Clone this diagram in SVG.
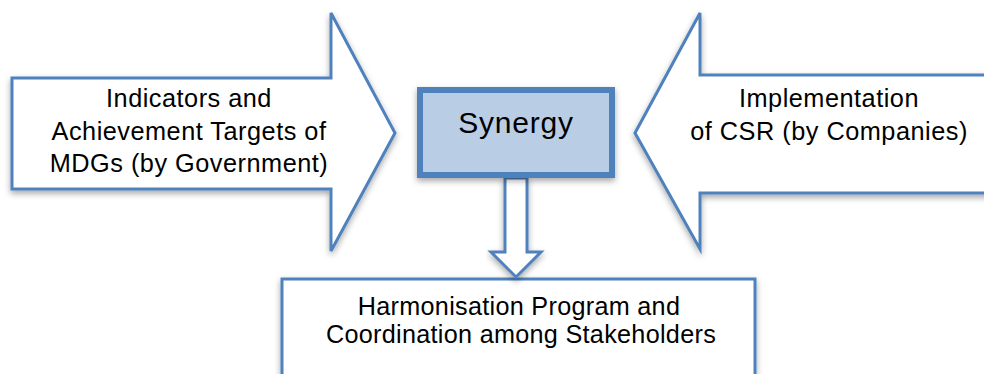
<svg xmlns="http://www.w3.org/2000/svg" width="984" height="374" viewBox="0 0 984 374">
<style>
.shape{fill:#ffffff;stroke:#4f81bd;stroke-width:3;stroke-linejoin:miter;filter:url(#sh)}
.t{font-family:"Liberation Sans",Arial,Helvetica,sans-serif;font-size:25.3px;fill:#000000;text-anchor:middle;letter-spacing:0.5px}
.b{font-size:25.2px;letter-spacing:0.3px}
.syn{fill:#b9cde5;stroke:#4f81bd;stroke-width:6;filter:url(#sh)}
.big{font-size:30px;letter-spacing:0.8px}
</style>
<defs>
<filter id="sh" x="-10%" y="-10%" width="130%" height="140%">
<feDropShadow dx="0" dy="3" stdDeviation="3" flood-color="#000000" flood-opacity="0.35"/>
</filter>
</defs>
<rect width="984" height="374" fill="#ffffff"/>
<g id="left-arrow">
<polygon class="shape" points="12,78 331,78 331,13 395,133 331,251 331,189 12,189"/>
<text class="t" x="189" y="107">Indicators and</text>
<text class="t" x="189" y="140">Achievement Targets of</text>
<text class="t" x="189" y="172">MDGs (by Government)</text>
</g>
<g id="right-arrow">
<polygon class="shape" points="992,75 700,75 700,13 635,133 700,249 700,193 992,193"/>
<text class="t" x="829" y="107">Implementation</text>
<text class="t" x="829" y="140">of CSR (by Companies)</text>
</g>
<g id="bottom-box">
<rect class="shape" x="282" y="279" width="473" height="130"/>
<text class="t b" x="519" y="315">Harmonisation Program and</text>
<text class="t b" x="521" y="343">Coordination among Stakeholders</text>
</g>
<g id="connectors">
<polygon class="shape" points="505,178 527,178 527,252 541,252 516,277 491,252 505,252"/>
</g>
<g id="synergy">
<rect class="syn" x="420" y="90" width="192" height="85"/>
<text class="t big" x="516" y="133">Synergy</text>
</g>
</svg>
